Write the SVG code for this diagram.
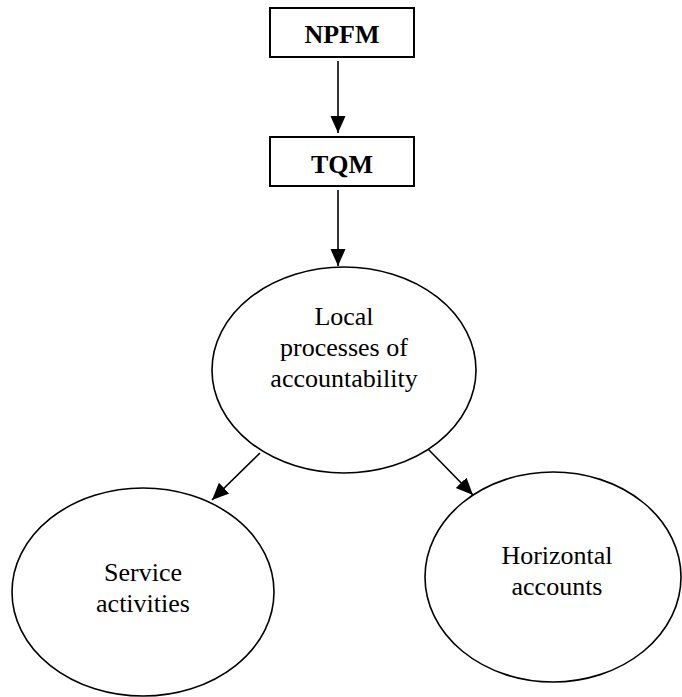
<svg xmlns="http://www.w3.org/2000/svg" width="682" height="697" viewBox="0 0 682 697">
<style>
.box{fill:#fff;stroke:#000;stroke-width:2}
.ell{fill:#fff;stroke:#000;stroke-width:1.6}
text{font-family:'Liberation Serif','Times New Roman','DejaVu Serif',serif;font-size:26px;fill:#000;text-anchor:middle}
.b{font-weight:bold}
.c{stroke:#000;stroke-width:1.6;fill:none}
</style>
<defs>
<marker id="ah" markerUnits="userSpaceOnUse" markerWidth="17" markerHeight="17" viewBox="0 0 17 17" refX="17" refY="8.5" orient="auto">
<path d="M0,1 L17,8.5 L0,16 Z" fill="#000"/>
</marker>
</defs>
<g id="connectors">
<line class="c" x1="338" y1="61" x2="338" y2="133" marker-end="url(#ah)"/>
<line class="c" x1="338" y1="190" x2="338" y2="266" marker-end="url(#ah)"/>
<line class="c" x1="260" y1="453" x2="212" y2="500" marker-end="url(#ah)"/>
<line class="c" x1="427" y1="448" x2="473" y2="495" marker-end="url(#ah)"/>
</g>
<g id="npfm">
<rect class="box" x="270" y="8" width="144" height="49"/>
<text class="b" x="342" y="43">NPFM</text>
</g>
<g id="tqm">
<rect class="box" x="270" y="137" width="144" height="49"/>
<text class="b" x="342" y="173">TQM</text>
</g>
<g id="local">
<ellipse class="ell" cx="344" cy="370" rx="132" ry="103"/>
<text x="344" y="325">Local</text>
<text x="344" y="356">processes of</text>
<text x="344" y="387">accountability</text>
</g>
<g id="service">
<ellipse class="ell" cx="143" cy="592" rx="131" ry="104"/>
<text x="143" y="581">Service</text>
<text x="143" y="612">activities</text>
</g>
<g id="horizontal">
<ellipse class="ell" cx="553" cy="577" rx="128" ry="105"/>
<text x="557" y="564">Horizontal</text>
<text x="557" y="595">accounts</text>
</g>
</svg>
